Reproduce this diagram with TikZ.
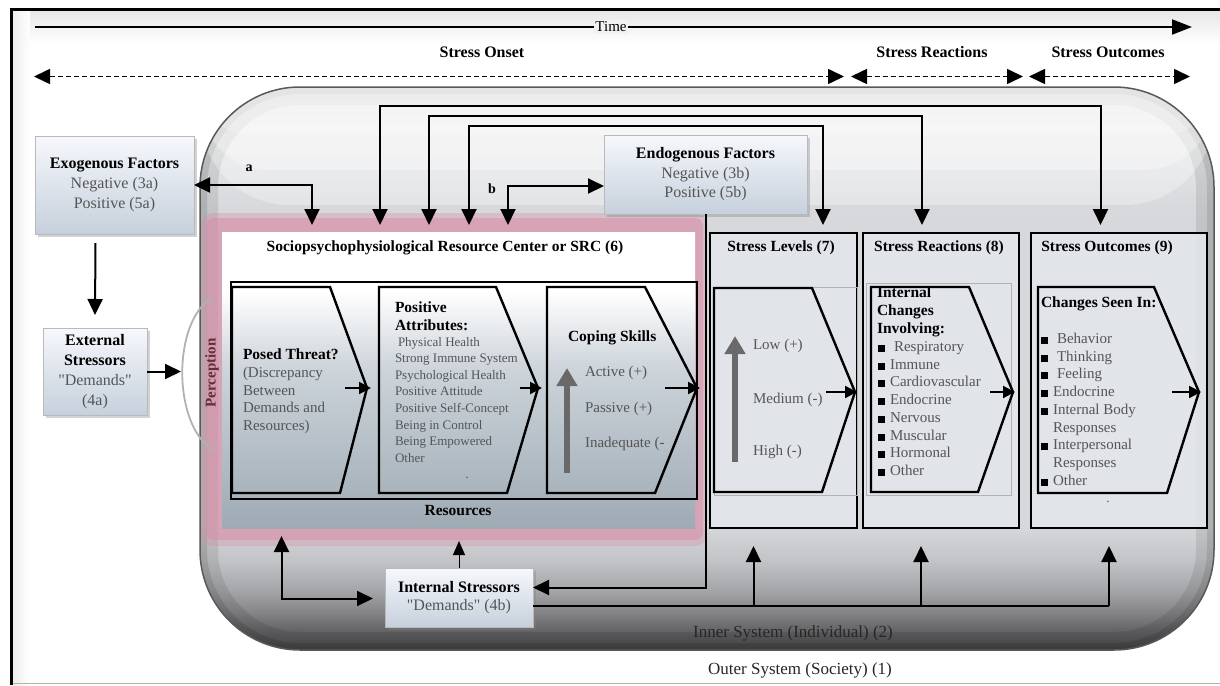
\documentclass[tikz,border=0pt]{standalone}
\usepackage{fontspec}
\setmainfont{Liberation Serif}
\usetikzlibrary{arrows.meta,shadows,calc}
\newcommand{\qmk}{\XeTeXglyph\XeTeXcharglyph"22\relax}
\definecolor{txtg}{RGB}{85,85,85}
\definecolor{pinkc}{RGB}{214,140,165}
\definecolor{boxtop}{RGB}{246,248,252}
\definecolor{boxbot}{RGB}{198,208,220}
\definecolor{isA}{RGB}{72,72,74}
\definecolor{isB}{RGB}{100,100,102}
\definecolor{isC}{RGB}{135,135,138}
\definecolor{isG}{RGB}{165,166,169}
\definecolor{isH}{RGB}{195,196,199}
\definecolor{isD}{RGB}{214,216,219}
\definecolor{isE}{RGB}{232,233,235}
\definecolor{isF}{RGB}{226,226,228}
\definecolor{srcA}{RGB}{158,170,180}
\definecolor{srcB}{RGB}{205,212,218}
\definecolor{stressfill}{RGB}{228,231,235}
\definecolor{percol}{RGB}{100,45,55}
\definecolor{garrow}{RGB}{105,105,105}
\pgfdeclareverticalshading{innersys}{100bp}{color(0bp)=(isA); color(25bp)=(isA); color(26.75bp)=(isB); color(28.5bp)=(isC); color(30.35bp)=(isG); color(33bp)=(isH); color(36bp)=(isD); color(64bp)=(isD); color(70bp)=(isE); color(75bp)=(isF); color(100bp)=(isF)}
\pgfdeclareverticalshading{srcshade}{100bp}{color(0bp)=(srcA); color(25bp)=(srcA); color(52bp)=(srcB); color(65bp)=(white); color(100bp)=(white)}
\begin{document}
\begin{tikzpicture}[x=1pt,y=-1pt,
  >={Triangle[length=16pt,width=15pt]},
  every node/.style={inner sep=0pt,outer sep=0pt},
  conn/.style={line width=2pt},
  arr/.style={conn,->},
  both/.style={conn,<->},
  dasharr/.style={line width=1.6pt,dash pattern=on 5pt off 3pt,<->},
  chev/.style={line width=2.4pt,line join=miter},
  smallarr/.style={line width=2pt,-{Triangle[length=12pt,width=12pt]}},
  grayarr/.style={line width=6pt,draw=garrow,-{Triangle[length=18pt,width=20pt]}},
  fbox/.style={draw=gray!55,line width=0.8pt,top color=boxtop,bottom color=boxbot,
    drop shadow={opacity=0.35,shadow xshift=2.5pt,shadow yshift=-2.5pt},align=center},
  sbox/.style={draw=black,line width=1.6pt,fill=stressfill,fill opacity=0.85},
  bt/.style={font=\fontsize{15.5}{18}\selectfont\bfseries},
  it/.style={font=\fontsize{15}{18}\selectfont,text=txtg},
  sm/.style={font=\fontsize{13}{16}\selectfont,text=txtg},
  bl/.style={anchor=base west},
  bc/.style={anchor=base},
  bul/.style={fill=black,minimum size=7pt,inner sep=0pt}]
\useasboundingbox (0,0) rectangle (1220,685);
% ---------- frame ----------
\fill[white] (0,0) rectangle (1220,685);
\fill[top color=gray!18,bottom color=white] (12,12) rectangle (1220,44);
\fill[left color=gray!14,right color=white] (12,12) rectangle (30,685);
\draw[gray!60,line width=1.5pt] (11,683.5) -- (1220,683.5);
\draw[line width=3pt] (11,685) -- (11,10) -- (1220,10);
% ---------- inner system ----------
\path[shade,shading=innersys,rounded corners=100pt] (200,87) rectangle (1214,650);
\begin{scope}
  \clip[rounded corners=100pt] (200,87) rectangle (1214,650);
  \draw[line width=36pt,black,opacity=0.09,rounded corners=100pt] (200,87) rectangle (1214,650);
  \draw[line width=14pt,black,opacity=0.10,rounded corners=100pt] (200,87) rectangle (1214,650);
  \fill[white,opacity=0.30,rounded corners=90pt] (200,87) rectangle (1214,205);
  \fill[white,opacity=0.30,rounded corners=70pt] (200,87) rectangle (1214,170);
  \fill[white,opacity=0.25,rounded corners=50pt] (200,87) rectangle (1214,135);
\end{scope}
\draw[gray!70!black,line width=1.5pt,rounded corners=100pt] (200,87) rectangle (1214,650);
% ---------- pink glow & SRC ----------
\fill[pinkc,opacity=0.35,rounded corners=12pt] (201,213) rectangle (707,546);
\fill[pinkc,opacity=0.50,rounded corners=8pt] (206,218) rectangle (703,540);
\node[shade,shading=srcshade,minimum width=473pt,minimum height=296pt] (src) at (458.5,380) {};
\node[bt,bc] (srct) at (445,251) {Sociopsychophysiological Resource Center or SRC (6)};
\node[draw,line width=2.2pt,minimum width=466pt,minimum height=217pt] (srcin) at (464,390.5) {};
\draw[chev] (232,287) -- (330,287) -- (367,388) -- (340,493) -- (232,493) -- cycle;
\draw[chev] (379,287) -- (496,287) -- (538,388) -- (507,493) -- (379,493) -- cycle;
\draw[chev] (547,287) -- (645,287) -- (697,388) -- (655,493) -- (547,493) -- cycle;
\draw[smallarr] (345,388) -- (371,388);
\draw[smallarr] (520,388) -- (542,388);
\draw[smallarr] (665,388) -- (700,388);
% posed threat
\node[bt,bl] (pt0) at (243,359) {Posed Threat?};
\node[it,bl] (pt1) at (243,377) {(Discrepancy};
\node[it,bl] (pt2) at (243,395) {Between};
\node[it,bl] (pt3) at (243,412) {Demands and};
\node[it,bl] (pt4) at (243,430) {Resources)};
% positive attributes
\node[bt,bl] (pa0) at (395,312) {Positive};
\node[bt,bl] (pa1) at (395,330) {Attributes:};
\node[sm,bl] (pa2) at (398,346) {Physical Health};
\node[sm,bl] (pa3) at (395,362.6) {Strong Immune System};
\node[sm,bl] (pa4) at (395,379.2) {Psychological Health};
\node[sm,bl] (pa5) at (395,395.8) {Positive Attitude};
\node[sm,bl] (pa6) at (395,412.4) {Positive Self-Concept};
\node[sm,bl] (pa7) at (395,429) {Being in Control};
\node[sm,bl] (pa8) at (395,445.6) {Being Empowered};
\node[sm,bl] (pa9) at (395,462.2) {Other};
\node[sm,bc] (dot1) at (467,478) {.};
% coping
\draw[grayarr] (567,473) -- (567,368);
\node[bt,bl] (cs0) at (568,341) {Coping Skills};
\node[it,bl] (cs1) at (585,376) {Active (+)};
\node[it,bl] (cs2) at (585,412) {Passive (+)};
\node[it,bl] (cs3) at (585,447) {Inadequate (-};
\node[bt,bc] (res) at (458,515) {Resources};
% ---------- stress boxes ----------
\node[sbox,minimum width=147pt,minimum height=295pt] (lev) at (783.5,380.5) {};
\node[sbox,minimum width=156pt,minimum height=295pt] (rea) at (941,380.5) {};
\node[sbox,minimum width=176pt,minimum height=295pt] (out) at (1119,380.5) {};
\draw[gray!60,line width=0.8pt] (714,287) rectangle (857,495);
\draw[gray!60,line width=0.8pt] (866,283) rectangle (1011,495);
\node[bt,bc] (levt) at (781,251) {Stress Levels (7)};
\node[bt,bc] (reat) at (939,251) {Stress Reactions (8)};
\node[bt,bc] (outt) at (1107,251) {Stress Outcomes (9)};
% levels
\draw[chev] (714,288) -- (812,288) -- (855,392) -- (822,492) -- (714,492) -- cycle;
\draw[smallarr] (826,392) -- (857,392);
\draw[grayarr] (735,462) -- (735,336);
\node[it,bl] (lv1) at (753,349) {Low (+)};
\node[it,bl] (lv2) at (753,403) {Medium (-)};
\node[it,bl] (lv3) at (753,455) {High (-)};
% reactions
\draw[chev] (871,287) -- (969,287) -- (1013,392) -- (978,492) -- (871,492) -- cycle;
\draw[smallarr] (990,392) -- (1015,392);
\node[bt,bl] (ic0) at (877,297) {Internal};
\node[bt,bl] (ic1) at (877,315) {Changes};
\node[bt,bl] (ic2) at (877,333) {Involving:};
\node[it,bl] (ic3) at (894,351) {Respiratory};
\node[it,bl] (ic4) at (890,369) {Immune};
\node[it,bl] (ic5) at (890,386) {Cardiovascular};
\node[it,bl] (ic6) at (890,404) {Endocrine};
\node[it,bl] (ic7) at (890,422) {Nervous};
\node[it,bl] (ic8) at (890,440) {Muscular};
\node[it,bl] (ic9) at (890,457) {Hormonal};
\node[it,bl] (ic10) at (890,475) {Other};
\node[bul] (rb1) at (881.5,348) {};
\node[bul] (rb2) at (881.5,366) {};
\node[bul] (rb3) at (881.5,383) {};
\node[bul] (rb4) at (881.5,401) {};
\node[bul] (rb5) at (881.5,419) {};
\node[bul] (rb6) at (881.5,437) {};
\node[bul] (rb7) at (881.5,454) {};
\node[bul] (rb8) at (881.5,472) {};
% outcomes
\draw[chev] (1038,287) -- (1154,287) -- (1199,392) -- (1167,493) -- (1038,493) -- cycle;
\draw[smallarr] (1172,392) -- (1201,392);
\node[bt,bl] (cg0) at (1041,307) {Changes Seen In:};
\node[it,bl] (cg1) at (1057,343) {Behavior};
\node[it,bl] (cg2) at (1057,361) {Thinking};
\node[it,bl] (cg3) at (1057,378) {Feeling};
\node[it,bl] (cg4) at (1053,396) {Endocrine};
\node[it,bl] (cg5) at (1053,414) {Internal Body};
\node[it,bl] (cg6) at (1053,432) {Responses};
\node[it,bl] (cg7) at (1053,449) {Interpersonal};
\node[it,bl] (cg8) at (1053,467) {Responses};
\node[it,bl] (cg9) at (1053,485) {Other};
\node[bul] (ob1) at (1044,340) {};
\node[bul] (ob2) at (1044,358) {};
\node[bul] (ob3) at (1044,375) {};
\node[bul] (ob4) at (1044,393) {};
\node[bul] (ob5) at (1044,411) {};
\node[bul] (ob6) at (1044,446) {};
\node[bul] (ob7) at (1044,482) {};
\node[sm,bc] (dot2) at (1108,502) {.};
% ---------- perception ----------
\draw[gray!60,line width=1.8pt] (213,297) .. controls (172,320) and (172,425) .. (213,450);
\coordinate (percpt) at (181,371.5);
\node[rotate=90,font=\fontsize{15}{18}\selectfont\bfseries,text=percol] (perc) at (212,373) {Perception};
% ---------- factor / stressor boxes ----------
\node[fbox,minimum width=159pt,minimum height=98pt,font=\fontsize{16}{20}\selectfont] (exo) at (114.5,185)
  {\textbf{Exogenous Factors}\\\textcolor{txtg}{Negative (3a)}\\\textcolor{txtg}{Positive (5a)}};
\node[fbox,minimum width=104pt,minimum height=87pt,font=\fontsize{16}{20}\selectfont] (ext) at (95,371.5)
  {\textbf{External}\\\textbf{Stressors}\\\textcolor{txtg}{\qmk Demands\qmk}\\\textcolor{txtg}{(4a)}};
\node[fbox,minimum width=203pt,minimum height=79pt,font=\fontsize{16}{19.5}\selectfont] (endo) at (705.5,174.5)
  {\textbf{Endogenous Factors}\\\textcolor{txtg}{Negative (3b)}\\\textcolor{txtg}{Positive (5b)}};
\node[fbox,minimum width=148pt,minimum height=59pt,font=\fontsize{16}{17.5}\selectfont] (intstr) at (459,597.5)
  {\textbf{Internal Stressors}\\\textcolor{txtg}{\qmk Demands\qmk\ (4b)}};
% ---------- connectors ----------
\draw[arr] ($(exo.south)+(-19,9)$) -- ($(ext.north)+(0,-13)$);
\draw[arr] (ext.east) -- (percpt);
\draw[both] (exo.east) -| ($(src.north)+(-146.5,-7)$);
\node[font=\fontsize{14}{16}\selectfont\bfseries] (la) at (249,168) {a};
\draw[both] ($(src.north)+(49.5,-7)$) |- ($(endo.west)+(0,11.5)$);
\node[font=\fontsize{14}{16}\selectfont\bfseries] (lb) at (492,189) {b};
\draw[both] ($(src.north)+(-78.5,-7)$) -- ++(0,-119) -| ($(out.north)+(-18.5,-8)$);
\draw[both] ($(src.north)+(-29.5,-7)$) -- ++(0,-109) -| ($(rea.north)+(-19,-8)$);
\draw[both] ($(src.north)+(10.5,-7)$) -- ++(0,-99) -| ($(lev.north)+(39.5,-8)$);
\draw[arr] (endo.south) |- ($(intstr.east)+(0,-10)$);
\draw[conn] ($(intstr.east)+(0,8.5)$) -- ($(out.south)+(-10,78)$);
\draw[arr] ($(lev.south)+(-30,78)$) -- ($(lev.south)+(-30,18)$);
\draw[arr] ($(rea.south)+(-20,78)$) -- ($(rea.south)+(-20,18)$);
\draw[arr] ($(out.south)+(-10,78)$) -- ($(out.south)+(-10,18)$);
\draw[line width=1pt,-{Triangle[length=14pt,width=12pt]}] (intstr.north) -- ($(intstr.north |- src.south)+(0,13)$);
\draw[both] ($(src.south)+(-177,8)$) |- ($(intstr.west)+(-12,1)$);
% ---------- time axis ----------
\coordinate (t0) at (35,27);
\coordinate (t1) at (1192,27);
\draw[line width=2pt,-{Triangle[length=20pt,width=15pt]}] (t0) -- (t1);
\node[fill=gray!10,inner xsep=1pt,inner ysep=2pt,font=\fontsize{15}{18}\selectfont] (time) at (611,27) {Time};
\node[font=\fontsize{16}{18}\selectfont\bfseries,bc] (onset) at (482,57) {Stress Onset};
\node[font=\fontsize{16}{18}\selectfont\bfseries,bc] (react) at (932,57) {Stress Reactions};
\node[font=\fontsize{16}{18}\selectfont\bfseries,bc] (outc) at (1108,57) {Stress Outcomes};
\coordinate (d0) at (34,76.5);
\coordinate (d1) at (844,76.5);
\coordinate (d2) at (851,76.5);
\coordinate (d3) at (1023,76.5);
\coordinate (d4) at (1029,76.5);
\coordinate (d5) at (1190,76.5);
\draw[dasharr] (d0) -- (d1);
\draw[dasharr] (d2) -- (d3);
\draw[dasharr] (d4) -- (d5);
% ---------- system labels ----------
\node[font=\fontsize{17}{20}\selectfont,text=black!85] (inner) at (793,633) {Inner System (Individual) (2)};
\node[font=\fontsize{17}{20}\selectfont,text=black!85] (outer) at (800,670) {Outer System (Society) (1)};
\end{tikzpicture}
\end{document}
